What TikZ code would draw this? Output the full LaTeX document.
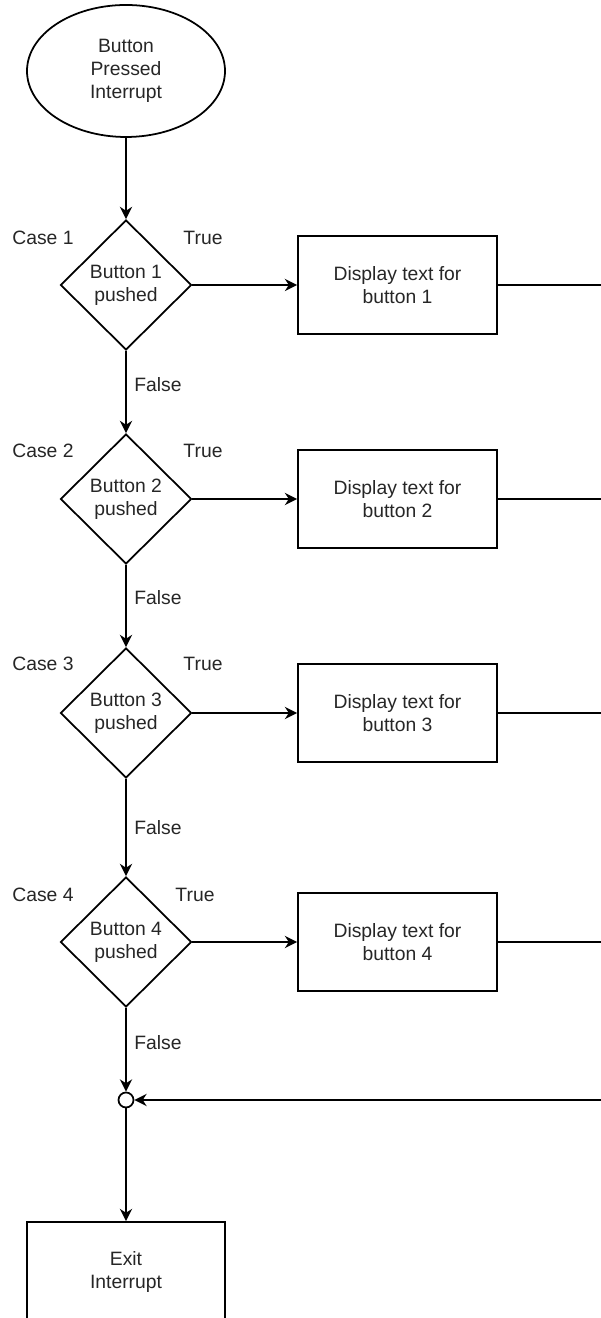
\documentclass[tikz,border=0pt]{standalone}
\usepackage{fontspec}
\setmainfont{Liberation Sans}
\usepackage{tikz}
\usetikzlibrary{arrows.meta,shapes.geometric}

\begin{document}
\begin{tikzpicture}
		\tikzstyle{every node}=[font=\fontsize{11}{13}\selectfont, text=black!85, align=center]
		\tikzstyle{startoval}=[draw, ellipse, line width=1pt, inner sep=0pt, minimum width=3.96cm, minimum height=2.64cm]
		\tikzstyle{decisionbox}=[draw, diamond, line width=1pt, inner sep=0pt, minimum width=2.62cm, minimum height=2.6cm]
		\tikzstyle{textbox}=[draw, rectangle, line width=1pt, minimum width=3.98cm, minimum height=1.96cm]
		\tikzstyle{joint}=[draw, circle, line width=1pt, inner sep=0pt, minimum size=0.3cm]
		\tikzstyle{flow}=[line width=1pt, ->, >={Stealth[length=7pt,width=7pt]}]

		\useasboundingbox (0,0) rectangle (12,26.36);

		% start and exit
		\node [startoval] (start) at (2.52,24.94) {Button\\Pressed\\Interrupt};
		\node [textbox, minimum width=3.96cm, minimum height=2cm] (exit) at (2.52,0.92) {Exit\\Interrupt};
		\node [joint] (join) at (2.52,4.36) {};

		% the four cases
		\node [decisionbox] (dec1) at (2.52,20.66) {Button 1\\pushed};
		\node [decisionbox] (dec2) at (2.52,16.38) {Button 2\\pushed};
		\node [decisionbox] (dec3) at (2.52,12.1) {Button 3\\pushed};
		\node [decisionbox] (dec4) at (2.52,7.52) {Button 4\\pushed};

		\node [textbox] (disp1) at (7.95,20.66) {Display text for\\button 1};
		\node [textbox] (disp2) at (7.95,16.38) {Display text for\\button 2};
		\node [textbox] (disp3) at (7.95,12.1) {Display text for\\button 3};
		\node [textbox] (disp4) at (7.95,7.52) {Display text for\\button 4};

		\node (case1) at (0.86,21.6) {Case 1};
		\node (case2) at (0.86,17.34) {Case 2};
		\node (case3) at (0.86,13.08) {Case 3};
		\node (case4) at (0.86,8.46) {Case 4};

		\node (true1) at (4.06,21.6) {True};
		\node (true2) at (4.06,17.34) {True};
		\node (true3) at (4.06,13.08) {True};
		\node (true4) at (3.9,8.46) {True};

		\node (false1) at (3.16,18.66) {False};
		\node (false2) at (3.16,14.4) {False};
		\node (false3) at (3.16,9.8) {False};
		\node (false4) at (3.16,5.5) {False};

		% lines running off to the right
		\coordinate (out1) at (12.1,20.66);
		\coordinate (out2) at (12.1,16.38);
		\coordinate (out3) at (12.1,12.1);
		\coordinate (out4) at (12.1,7.52);
		\coordinate (back) at (12.1,4.36);

		\draw [flow] (start) -- (dec1);
		\draw [flow] (dec1) -- (dec2);
		\draw [flow] (dec2) -- (dec3);
		\draw [flow] (dec3) -- (dec4);
		\draw [flow] (dec4) -- (join);
		\draw [flow] (join) -- (exit);

		\draw [flow] (dec1) -- (disp1);
		\draw [flow] (dec2) -- (disp2);
		\draw [flow] (dec3) -- (disp3);
		\draw [flow] (dec4) -- (disp4);

		\draw [line width=1pt] (disp1) -- (out1);
		\draw [line width=1pt] (disp2) -- (out2);
		\draw [line width=1pt] (disp3) -- (out3);
		\draw [line width=1pt] (disp4) -- (out4);
		\draw [flow] (back) -- (join);

	\end{tikzpicture}
\end{document}
